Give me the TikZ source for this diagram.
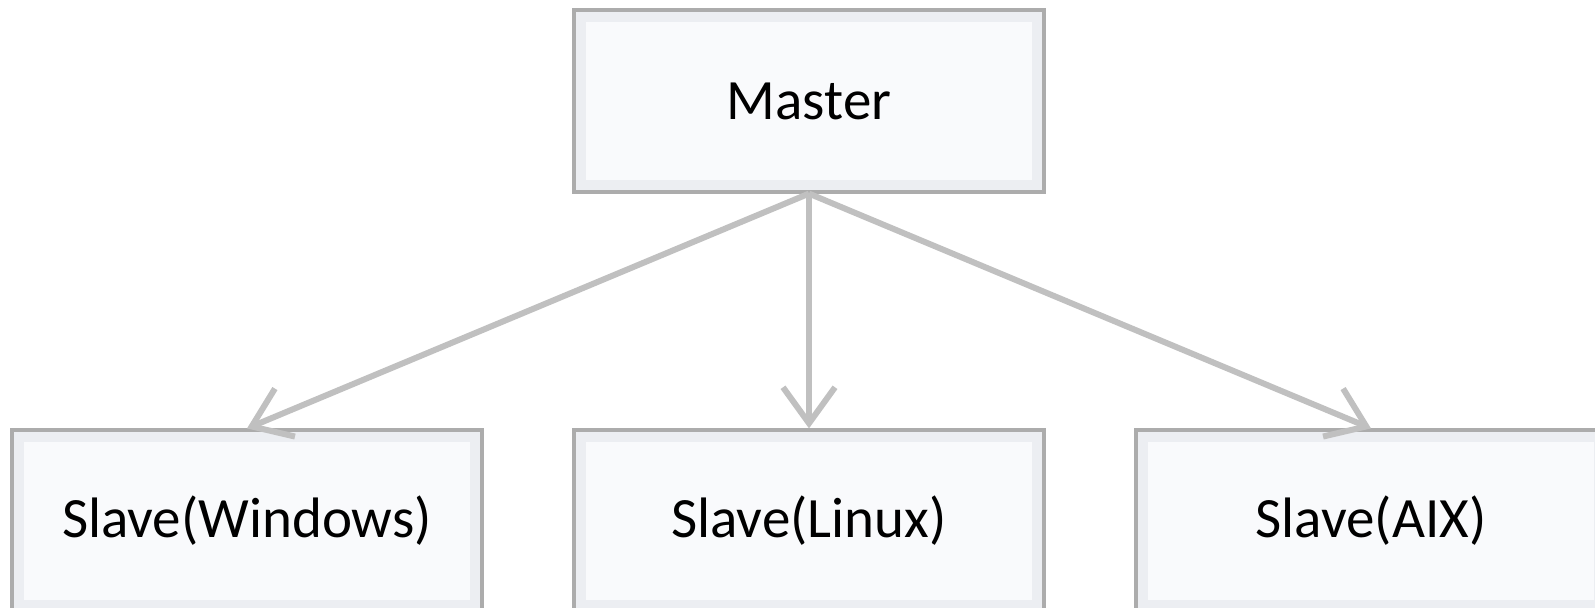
\documentclass[tikz,border=0pt]{standalone}
\usepackage{fontspec}
\setmainfont{Carlito}
\usepackage{tikz}
\usetikzlibrary{arrows.meta}
\definecolor{khungxam}{RGB}{172,172,172}
\definecolor{nenhop}{RGB}{249,250,252}
\definecolor{vienhop}{RGB}{236,238,242}
\definecolor{muitenxam}{RGB}{192,192,192}
\tikzset{
	hop/.style={draw=khungxam,line width=1.6pt,fill=nenhop,minimum width=235pt,minimum height=91pt,inner sep=0pt,
		font=\fontsize{28.5}{34}\selectfont,
		path picture={\draw[vienhop,line width=12pt] (path picture bounding box.south west) rectangle (path picture bounding box.north east);}},
	muiten/.style={draw=muitenxam,line width=3pt,-{Straight Barb[length=18pt,width=26pt]}}
}
\begin{document}
\begin{tikzpicture}[x=0.5pt,y=-0.5pt]
			\useasboundingbox (0,0) rectangle (1595,607);
			\node [hop] (master) at (809,101) {Master};
			\node [hop] (windows) at (247,521) {Slave(Windows)};
			\node [hop] (linux) at (809,521) {Slave(Linux)};
			\node [hop] (aix) at (1371,521) {Slave(AIX)};
			\draw [muiten] (master.south) -- (windows.north);
			\draw [muiten] (master.south) -- (linux.north);
			\draw [muiten] (master.south) -- (aix.north);
		\end{tikzpicture}
\end{document}
